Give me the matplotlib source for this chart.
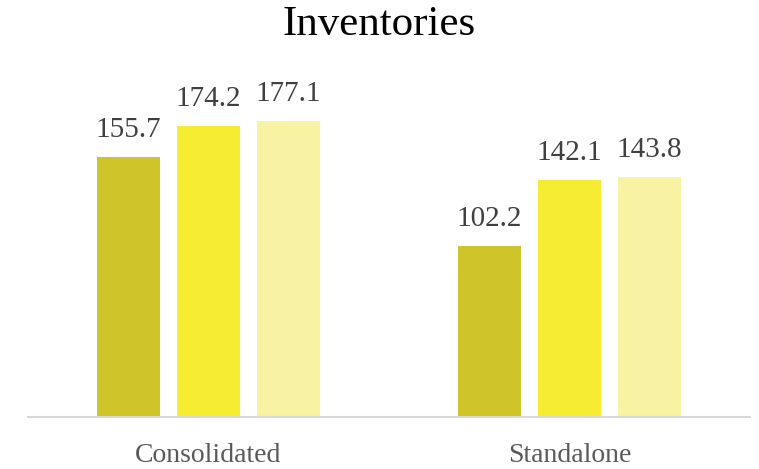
import numpy as np
import matplotlib
matplotlib.use("Agg")
from matplotlib import pyplot as plt

# inventories by reporting basis, three periods per group
categories = ["Consolidated", "Standalone"]
period_a = [155.7, 102.2]
period_b = [174.2, 142.1]
period_c = [177.1, 143.8]

colors = ["#CFC42A", "#F6EC32", "#F8F2A3"]

plt.rcParams["font.family"] = ["Liberation Serif", "DejaVu Serif"]

fig = plt.figure(figsize=(7.59, 4.69), dpi=100)
ax = fig.add_axes([0.0369, 0.1109, 0.9513, 0.712])

x = np.arange(len(categories))
width = 0.175
offset = 0.222
for i, (vals, col) in enumerate(zip([period_a, period_b, period_c], colors)):
    bars = ax.bar(x + (i - 1) * offset, vals, width, color=col, zorder=2)
    for b, v in zip(bars, vals):
        ax.text(b.get_x() + b.get_width() / 2, v + 12, "%.1f" % v,
                ha="center", va="baseline", fontsize=21, color="#404040")

ax.set_xlim(-0.5, 1.5)
ax.set_ylim(0, 200)
ax.set_xticks(x)
ax.set_xticklabels(categories, fontsize=20, color="#595959")
ax.tick_params(axis="x", length=0, pad=19)
ax.set_yticks([])
for side in ["top", "right", "left"]:
    ax.spines[side].set_visible(False)
ax.spines["bottom"].set_color("#D9D9D9")
ax.spines["bottom"].set_linewidth(1.5)

fig.text(0.5, 0.947, "Inventories", ha="center", va="center",
         fontsize=31, color="#000000")

fig.savefig("out.png", dpi=100)
